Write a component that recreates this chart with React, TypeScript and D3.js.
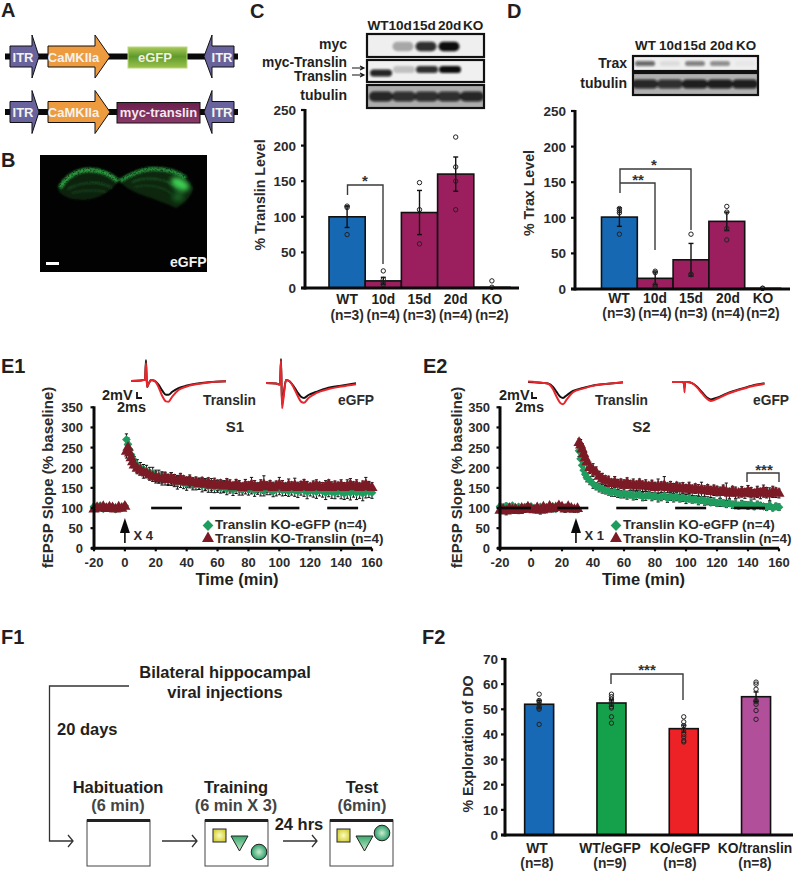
import React from "react";
import * as d3 from "d3";

const FONT = '"Liberation Sans", Arial, sans-serif';
const INK = "#231f20";

// Panel C
const C_CATEGORIES = ["WT", "10d", "15d", "20d", "KO"];
const C_COUNTS = ["(n=3)", "(n=4)", "(n=3)", "(n=4)", "(n=2)"];
const C_VALUES = [100, 10, 106, 160, 1];
const C_ERRORS = [15, 5, 31, 24, 0];
const C_POINTS = [[75, 113, 115], [5, 8, 12, 24], [62, 110, 148], [110, 150, 170, 212], [1, 10]];

// Panel D
const D_VALUES = [101, 15, 41, 95, 1];
const D_ERRORS = [13, 9, 23, 13, 0];
const D_POINTS = [[77, 107, 110, 113], [3, 6, 23, 25], [20, 21, 77], [69, 85, 108, 116], [1, 1]];

// Panel F2
const F_CATEGORIES = ["WT", "WT/eGFP", "KO/eGFP", "KO/translin"];
const F_COUNTS = ["(n=8)", "(n=9)", "(n=8)", "(n=8)"];
const F_VALUES = [52, 52.5, 42.3, 55];
const F_ERRORS = [1.5, 1.3, 1.4, 1.9];
const F_POINTS = [
  [44, 50, 50.5, 51, 52, 53, 53.5, 56],
  [44.5, 47, 50.5, 51, 52, 53, 54, 55, 56],
  [37, 37.5, 39, 40, 42, 43.5, 45, 47],
  [46, 49.5, 52, 53, 53.5, 58, 60, 60.8],
];
const BAR_BLUE = "#1768b3";
const BAR_WINE = "#9b1f5f";
const C_COLORS = [BAR_BLUE, BAR_WINE, BAR_WINE, BAR_WINE, BAR_WINE];
const F_COLORS = ["#1769b5", "#15a04b", "#ec2227", "#b24f9a"];

// Blots: band strength per lane
const MYC_BANDS = [0, 0.3, 0.85, 1, 0];
const TRANSLIN_BANDS = [0.9, 0.2, 0.85, 1, 0];
const TUBULIN_C_BANDS = [0.85, 0.8, 0.8, 0.8, 0.85];
const TRAX_BANDS = [0.6, 0.08, 0.45, 0.4, 0.03];
const TUBULIN_D_BANDS = [0.85, 0.8, 0.9, 0.9, 0.9];

// E1 time course
const E1_TIME = [...d3.range(-20, 1, 2), 1, 2, 3, 4, 5, 6, ...d3.range(8, 161, 2)];
const E1_EGFP = [
  104, 100, 106, 98, 102, 99, 103, 97, 101, 100, 105,
  270, 258, 244, 232, 222, 214,
  206, 200, 196, 192, 188, 186, 180, 178, 176, 172,
  170, 172, 168, 164, 166, 162, 160, 164, 160, 158,
  160, 156, 158, 154, 156, 152, 154, 150, 152, 148,
  150, 146, 150, 148, 146, 150, 146, 148, 144, 148,
  146, 144, 148, 146, 142, 146, 148, 144, 146, 142,
  146, 144, 142, 146, 144, 140, 144, 142, 140, 144,
  142, 138, 142, 140, 138, 142, 140, 136, 140, 138,
  142, 138, 140, 136, 140, 142, 138,
];
const E1_TRANSLIN = [
  97, 101, 99, 103, 98, 102, 100, 97, 102, 99, 104,
  240, 250, 236, 224, 214, 206,
  198, 194, 188, 186, 182, 178, 176, 174, 172, 176,
  170, 174, 170, 166, 172, 168, 164, 168, 162, 164,
  160, 164, 158, 162, 156, 160, 156, 158, 154, 160,
  156, 152, 158, 154, 150, 156, 152, 158, 154, 150,
  156, 158, 152, 156, 150, 154, 158, 154, 150, 156,
  152, 156, 150, 154, 158, 152, 150, 154, 156, 152,
  150, 154, 158, 150, 154, 152, 156, 150, 154, 158,
  152, 156, 150, 154, 158, 152, 150,
];
const E1_EGFP_ERR = [
  6, 7, 5, 6, 7, 5, 6, 7, 5, 6, 7,
  14, 16, 14, 15, 13, 14,
  14, 13, 12, 14, 13, 15, 14, 16, 14, 15,
  14, 16, 15, 17, 15, 14, 16, 14, 15, 13,
  14, 16, 14, 15, 17, 14, 15, 13, 14, 15,
  13, 15, 14, 16, 14, 15, 14, 13, 15, 14,
  16, 14, 15, 13, 14, 16, 15, 14, 15, 13,
  14, 15, 16, 14, 15, 17, 14, 15, 16, 14,
  15, 17, 14, 16, 15, 14, 17, 15, 16, 18,
  15, 17, 16, 18, 15, 16, 14,
];
const E1_TRANSLIN_ERR = [
  5, 6, 5, 7, 6, 5, 6, 5, 7, 6, 6,
  16, 15, 14, 13, 14, 12,
  13, 12, 14, 11, 13, 12, 14, 12, 15, 13,
  12, 14, 13, 12, 14, 12, 13, 14, 12, 13,
  14, 12, 15, 13, 12, 14, 13, 12, 14, 13,
  14, 12, 13, 14, 12, 15, 13, 18, 14, 12,
  14, 22, 13, 12, 14, 13, 18, 14, 12, 16,
  13, 18, 14, 12, 13, 14, 12, 13, 14, 12,
  13, 14, 12, 15, 13, 12, 14, 13, 16, 15,
  13, 14, 12, 13, 18, 14, 13,
];

// E2 time course
const E2_TIME = [...d3.range(-20, 31, 2), 31, 32, 33, 34, 35, 36, ...d3.range(38, 161, 2)];
const E2_EGFP = [
  104, 102, 105, 103, 106, 100, 103, 98, 102, 100, 104, 98, 101, 103, 99, 102, 100, 104, 98, 103, 101, 99, 102, 100, 98, 97,
  242, 222, 206, 194, 184, 176,
  168, 160, 154, 150, 148, 144, 142, 138, 140, 136,
  134, 136, 132, 134, 130, 132, 134, 128, 130, 132,
  128, 130, 126, 128, 130, 124, 128, 126, 128, 124,
  126, 122, 124, 120, 122, 118, 120, 116, 118, 114,
  116, 112, 114, 112, 110, 112, 108, 110, 106, 110,
  108, 106, 110, 104, 108, 106, 104, 102, 106, 100,
  104, 102,
];
const E2_TRANSLIN = [
  94, 96, 92, 98, 95, 97, 93, 99, 96, 102, 97, 95, 100, 94, 102, 96, 104, 98, 100, 105, 102, 97, 103, 99, 96, 98,
  262, 256, 246, 234, 224, 214,
  200, 194, 188, 178, 172, 168, 166, 160, 164, 158,
  160, 156, 162, 156, 158, 154, 160, 154, 156, 152,
  156, 150, 154, 152, 156, 150, 152, 148, 152, 148,
  150, 146, 150, 144, 148, 144, 146, 142, 146, 140,
  144, 142, 138, 144, 140, 136, 142, 138, 136, 140,
  136, 142, 138, 134, 140, 136, 142, 138, 134, 140,
  138, 136,
];
const E2_EGFP_ERR = [
  6, 5, 7, 6, 5, 7, 6, 5, 7, 6, 5, 7, 6, 5, 6, 7, 5, 6, 7, 5, 6, 7, 5, 6, 5, 6,
  14, 14, 13, 12, 12, 11,
  10, 11, 9, 10, 11, 9, 10, 9, 11, 10,
  9, 11, 10, 9, 10, 11, 9, 10, 11, 9,
  10, 9, 11, 10, 9, 10, 9, 11, 10, 9,
  10, 11, 9, 8, 9, 10, 8, 9, 10, 8,
  9, 8, 10, 8, 9, 8, 9, 10, 8, 9,
  8, 9, 10, 8, 9, 8, 7, 8, 9, 7,
  8, 8,
];
const E2_TRANSLIN_ERR = [
  7, 8, 9, 7, 8, 9, 7, 8, 7, 9, 8, 7, 8, 9, 7, 8, 7, 8, 7, 8, 7, 8, 7, 8, 7, 6,
  10, 14, 14, 15, 14, 15,
  14, 16, 14, 13, 14, 12, 13, 12, 14, 13,
  12, 14, 13, 12, 14, 13, 12, 13, 14, 12,
  13, 14, 18, 13, 22, 12, 14, 13, 12, 14,
  13, 12, 14, 13, 12, 14, 18, 13, 12, 14,
  13, 12, 14, 13, 22, 13, 12, 14, 11, 13,
  12, 14, 13, 12, 14, 13, 15, 13, 16, 14,
  12, 11,
];
const E1_STIM_BARS = [[17, 37], [55, 75], [93, 113], [131, 151]];
const E2_STIM_BARS = [[-20, 0], [17, 37], [55, 75], [93, 113], [131, 151]];

// Example traces as [ms, mV]
const E1A_BLACK = [[0, 0], [4, 0.2], [5.6, 0.4], [6, 7], [6.4, -2], [7, -1], [8, 0.3], [9.5, 0], [11, -1.2], [12.5, -3.2], [14, -4.6], [15, -4.6], [16.5, -3.6], [19, -2.4], [22, -1.6], [26, -0.9], [31, -0.4], [38, -0.1]];
const E1A_RED = [[0, 0], [4, 0.2], [5.6, 0.4], [6, 6], [6.4, -2], [7, -1], [8, 0.3], [9.5, 0], [11, -2], [12.5, -5], [14, -6.8], [15, -6.9], [16.5, -5.2], [19, -3], [22, -1.9], [26, -1.1], [31, -0.5], [38, -0.1]];
const E1B_BLACK = [[0, 0], [4, -0.2], [5.6, -0.5], [6, 8], [6.4, -7], [7, -4], [8, 1], [9.5, 0.5], [11, -1], [12.5, -3], [14, -4.6], [15.2, -5], [17, -4], [20, -3], [25, -1.6], [30, -0.9], [36, -0.1]];
const E1B_RED = [[0, 0], [4, -0.2], [5.6, -0.5], [6, 7.5], [6.4, -8.4], [7, -5], [8, 1], [9.5, 0.5], [11, -1.4], [12.5, -4], [14, -6.2], [15.2, -6.6], [17, -5], [20, -3.4], [25, -2], [30, -1.2], [36, -0.4]];
const E2A_BLACK = [[0, 0], [6, -0.3], [8, -0.5], [10, -1.6], [11.5, -3.4], [13, -5], [14, -5.3], [15.5, -4.4], [18, -3], [22, -2], [27, -1], [33, -0.5], [38, -0.1]];
const E2A_RED = [[0, 0.2], [6, -0.3], [8, -0.6], [10, -2.4], [11.5, -5], [13, -7.1], [14, -7.4], [15.5, -5.8], [18, -3.4], [22, -2.2], [27, -1.1], [33, -0.5], [38, -0.2]];
const E2B_BLACK = [[0, 0], [4, 0], [4.8, -0.3], [5, -2], [5.2, 0], [6, 0], [8, -0.4], [10, -1.6], [12, -3.4], [14, -5.2], [15.6, -5.8], [18, -5.2], [22, -3.8], [27, -2.4], [32, -1.2], [37, -0.4]];
const E2B_RED = [[0, 0], [4, 0], [4.8, -0.6], [5, -3.4], [5.2, 0], [6, 0], [8, -0.4], [10, -1.8], [12, -3.8], [14, -5.6], [15.6, -6.3], [18, -5.6], [22, -4], [27, -2.6], [32, -1.4], [37, -0.6]];

type Anchor = "start" | "middle" | "end";

function Label({ x, y, children, size = 13, anchor = "start", weight = "bold", fill = INK, rotate }: {
  x: number; y: number; children: React.ReactNode; size?: number; anchor?: Anchor; weight?: string; fill?: string; rotate?: boolean;
}) {
  return (
    <text
      x={rotate ? 0 : x}
      y={rotate ? 0 : y}
      transform={rotate ? `translate(${x},${y}) rotate(-90)` : undefined}
      fontFamily={FONT}
      fontSize={size}
      fontWeight={weight}
      textAnchor={anchor}
      fill={fill}
    >
      {children}
    </text>
  );
}

// Vector map pieces of panel A
function Arrow({ x0, x1, x2, y, dir = 1, fill, label }: { x0: number; x1: number; x2: number; y: number; dir?: number; fill: string; label: string }) {
  const h = 10.5;
  const head = 21.5;
  const pts = [[x0, y - h], [x1, y - h], [x1, y - head], [x2, y], [x1, y + head], [x1, y + h], [x0, y + h]];
  return (
    <g>
      <polygon points={pts.map((p) => p.join(",")).join(" ")} fill={fill} stroke="#111" strokeWidth={1} />
      <Label x={dir > 0 ? (x0 + x1 + 4) / 2 : (x0 + x1 - 2) / 2} y={y + 5} anchor="middle" fill="#f4f2ee" size={13}>{label}</Label>
    </g>
  );
}

function Construct({ y, insert }: { y: number; insert: React.ReactNode }) {
  return (
    <g>
      <line x1={5} x2={238} y1={y} y2={y} stroke="#0a0a0a" strokeWidth={6} />
      <Arrow x0={10} x1={32} x2={39} y={y} fill="#68639c" label="ITR" />
      <Arrow x0={48} x1={95} x2={110} y={y} fill="#ee9a3f" label="CaMKIIa" />
      {insert}
      <Arrow x0={234} x1={212} x2={204} y={y} dir={-1} fill="#68639c" label="ITR" />
    </g>
  );
}

function Brain() {
  const leftBody = "M58,190 C64,176 76,168 90,168 C102,168 112,175 119,181 C112,190 100,199 84,200 C72,200 62,197 58,190 Z";
  const rightBody = "M119,181 C128,174 140,167 153,167 C168,167 184,172 193,188 C192,196 184,204 176,208 C160,200 140,196 127,188 Z";
  return (
    <g>
      <rect x={40} y={155} width={167} height={117} fill="#020202" />
      <g filter="url(#soft05)">
        <path d={leftBody} fill="#0a240e" />
        <path d={rightBody} fill="#0b2810" />
      </g>
      <g filter="url(#speckle)" fill="none">
        <path d="M60,188 C66,176 78,170 90,170 C102,170 112,176 118,181" stroke="#2a9e40" strokeWidth={4.5} />
        <path d="M120,181 C128,176 140,169 153,169 C166,169 178,172 186,178" stroke="#27923c" strokeWidth={4} />
        <path d="M68,189 C82,181 100,181 112,188" stroke="#1f5f2c" strokeWidth={1.5} />
        <path d="M72,193 C84,190 96,190 106,192" stroke="#174a22" strokeWidth={1.5} />
        <path d="M132,182 C148,176 165,178 178,188" stroke="#1f5f2c" strokeWidth={1.5} />
        <path d="M134,187 C150,184 162,186 172,194" stroke="#174a22" strokeWidth={1.5} />
      </g>
      <g filter="url(#soft2)">
        <ellipse cx={180} cy={184} rx={10} ry={5.5} fill="#3ccf52" transform="rotate(28 180 184)" />
        <ellipse cx={178} cy={197} rx={6} ry={5} fill="#145a22" />
      </g>
      <rect x={46} y={262} width={13} height={3} fill="#fff" />
      <Label x={170} y={267} fill="#f2f2f2" size={14}>eGFP</Label>
    </g>
  );
}

function BlotRow({ x, y, w, h, lanes, bands, bg, bandH, bandW, shift = 0, dy = 0 }: {
  x: number; y: number; w: number; h: number; lanes: [number, number]; bands: number[]; bg: string; bandH: number; bandW: number; shift?: number; dy?: number;
}) {
  const laneScale = d3.scalePoint<number>().domain(d3.range(bands.length)).range(lanes);
  const id = `clip${x}-${y}`;
  return (
    <g>
      <clipPath id={id}><rect x={x} y={y} width={w} height={h} /></clipPath>
      <rect x={x} y={y} width={w} height={h} fill={bg} />
      <g clipPath={`url(#${id})`}>
        <g filter="url(#soft1)">
          {bands.map((b, i) => (
            <rect
              key={i}
              x={(laneScale(i) as number) - bandW / 2}
              y={y + h / 2 - bandH / 2 + dy + (i === 0 ? shift : 0)}
              width={bandW}
              height={bandH}
              rx={bandH / 2}
              fill="#0c0c0c"
              opacity={b}
            />
          ))}
        </g>
      </g>
      <rect x={x} y={y} width={w} height={h} fill="none" stroke="#111" strokeWidth={2.2} />
    </g>
  );
}

function BarPanel({ axisX, plotLeft, step, barWidth, right, top, bottom, yMax, yStep, categories, counts, values, errors, points, colors, title, titleX, titleY, tickRight, catY, nY, catCenters, pointR = 2.2, catSize = 13.8 }: any) {
  const y = d3.scaleLinear().domain([0, yMax]).range([bottom, top]);
  const x = d3.scaleBand<number>()
    .domain(d3.range(categories.length))
    .range([plotLeft, plotLeft + step * categories.length])
    .paddingInner(1 - barWidth / step)
    .paddingOuter((1 - barWidth / step) / 2);
  return (
    <g>
      {values.map((v: number, i: number) => (
        <rect key={i} x={x(i)} y={y(v)} width={x.bandwidth()} height={bottom - y(v)} fill={colors[i]} stroke="#111" strokeWidth={1.6} />
      ))}
      {values.map((v: number, i: number) => {
        const cx = x(i)! + x.bandwidth() / 2;
        return errors[i] > 0 ? (
          <g key={i} stroke="#111" strokeWidth={1.4}>
            <line x1={cx} x2={cx} y1={y(v - errors[i])} y2={y(v + errors[i])} />
            <line x1={cx - 2.5} x2={cx + 2.5} y1={y(v - errors[i])} y2={y(v - errors[i])} />
            <line x1={cx - 2.5} x2={cx + 2.5} y1={y(v + errors[i])} y2={y(v + errors[i])} />
          </g>
        ) : null;
      })}
      {points.map((ps: number[], i: number) =>
        ps.map((p, j) => (
          <circle key={`${i}-${j}`} cx={x(i)! + x.bandwidth() / 2} cy={y(p)} r={pointR} fill="none" stroke="#222" strokeWidth={1} />
        ))
      )}
      <line x1={axisX} x2={axisX} y1={top - 1} y2={bottom + 1.5} stroke="#0a0a0a" strokeWidth={3} />
      <line x1={axisX - 4} x2={right} y1={bottom} y2={bottom} stroke="#0a0a0a" strokeWidth={3} />
      {d3.range(0, yMax + 1, yStep).map((t) => (
        <g key={t}>
          <line x1={axisX - 4} x2={axisX} y1={y(t)} y2={y(t)} stroke="#0a0a0a" strokeWidth={2.2} />
          <Label x={tickRight} y={y(t) + 5} anchor="end" size={13.5} fill="#2b2b2b">{t}</Label>
        </g>
      ))}
      <Label x={titleX} y={titleY} rotate anchor="middle" size={14.2} fill="#2b2b2b">{title}</Label>
      {categories.map((c: string, i: number) => {
        const cx = catCenters ? catCenters[i] : x(i)! + x.bandwidth() / 2;
        return (
          <g key={c}>
            <Label x={cx} y={catY} anchor="middle" size={catSize}>{c}</Label>
            <Label x={cx} y={nY} anchor="middle" size={catSize} fill="#2b2b2b">{counts[i]}</Label>
          </g>
        );
      })}
    </g>
  );
}

function Bracket({ d }: { d: string }) {
  return <path d={d} fill="none" stroke="#3a3a3a" strokeWidth={1.4} />;
}

function Trace({ data, x0, y0, color, width = 2 }: { data: number[][]; x0: number; y0: number; color: string; width?: number }) {
  const xs = d3.scaleLinear().domain([0, 1]).range([x0, x0 + 2.5]);
  const ys = d3.scaleLinear().domain([0, 1]).range([y0, y0 - 3]);
  const path = d3.line<number[]>().x((d) => xs(d[0])).y((d) => ys(d[1])).curve(d3.curveMonotoneX)(data) || "";
  return <path d={path} fill="none" stroke={color} strokeWidth={width} strokeLinejoin="round" />;
}

function TimeCourse({ left, right, axisLabelRight, titleX, time, egfp, translin, egfpErr, translinErr, stimBars, label, arrowT, xLabel, legendX }: any) {
  const top = 407.3;
  const bottom = 548.3;
  const x = d3.scaleLinear().domain([-20, 160]).range([left, right]);
  const y = d3.scaleLinear().domain([0, 350]).range([bottom, top]);
  const diamond = d3.symbol(d3.symbolSquare, 38)() || "";
  const tri = d3.symbol(d3.symbolTriangle, 54)() || "";
  const legendDiamond = d3.symbol(d3.symbolSquare, 58)() || "";
  const legendTri = d3.symbol(d3.symbolTriangle, 62)() || "";
  const whisker = (vals: number[], errs: number[]) =>
    vals.map((v, i) => {
      const cx = x(time[i]);
      return (
        <g key={i} stroke="#111" strokeWidth={1}>
          <line x1={cx} x2={cx} y1={y(v - errs[i])} y2={y(v + errs[i])} />
          <line x1={cx - 1.6} x2={cx + 1.6} y1={y(v + errs[i])} y2={y(v + errs[i])} />
          <line x1={cx - 1.6} x2={cx + 1.6} y1={y(v - errs[i])} y2={y(v - errs[i])} />
        </g>
      );
    });
  return (
    <g>
      {whisker(egfp, egfpErr)}
      {whisker(translin, translinErr)}
      {egfp.map((v: number, i: number) => (
        <path key={i} d={diamond} transform={`translate(${x(time[i])},${y(v)}) rotate(45)`} fill="#1f9d5e" />
      ))}
      {translin.map((v: number, i: number) => (
        <path key={i} d={tri} transform={`translate(${x(time[i])},${y(v)})`} fill="#7c1a25" />
      ))}
      {stimBars.map((b: number[], i: number) => (
        <line key={i} x1={x(b[0])} x2={x(b[1])} y1={y(100)} y2={y(100)} stroke="#0a0a0a" strokeWidth={2.6} />
      ))}
      <line x1={left} x2={left} y1={top - 1} y2={bottom + 1.5} stroke="#0a0a0a" strokeWidth={3} />
      <line x1={left - 3} x2={right} y1={bottom} y2={bottom} stroke="#0a0a0a" strokeWidth={3} />
      {d3.range(0, 351, 50).map((t) => (
        <g key={t}>
          <line x1={left - 3.5} x2={left} y1={y(t)} y2={y(t)} stroke="#0a0a0a" strokeWidth={2.2} />
          <Label x={axisLabelRight} y={y(t) + 5} anchor="end" size={13} fill="#2b2b2b">{t}</Label>
        </g>
      ))}
      {d3.range(-20, 161, 20).map((t) => (
        <g key={t}>
          <line x1={x(t)} x2={x(t)} y1={bottom} y2={bottom + 3} stroke="#0a0a0a" strokeWidth={2.2} />
          <Label x={x(t)} y={567} anchor="middle" size={13} fill="#2b2b2b">{t}</Label>
        </g>
      ))}
      <Label x={titleX} y={477.5} rotate anchor="middle" size={15} fill="#2b2b2b">fEPSP Slope (% baseline)</Label>
      <Label x={(left + right) / 2 + 4} y={584.5} anchor="middle" size={16.5}>Time (min)</Label>
      <Label x={(left + right) / 2 + 2} y={432} anchor="middle" size={15} fill="#2b2b2b">{label}</Label>
      {/* stimulus arrow */}
      <line x1={x(arrowT)} x2={x(arrowT)} y1={543} y2={528} stroke="#0a0a0a" strokeWidth={1.6} />
      <polygon points={`${x(arrowT)},518 ${x(arrowT) - 5},533 ${x(arrowT) + 5},533`} fill="#0a0a0a" />
      <Label x={x(arrowT) + 8.5} y={540} size={13} fill="#2b2b2b">{xLabel}</Label>
      {/* legend */}
      <path d={legendDiamond} transform={`translate(${legendX},525.5) rotate(45)`} fill="#1f9d5e" />
      <path d={legendTri} transform={`translate(${legendX},538.5)`} fill="#7c1a25" />
      <Label x={legendX + 7} y={528.5} size={13.5} fill="#2b2b2b">Translin KO-eGFP (n=4)</Label>
      <Label x={legendX + 7} y={542.5} size={13.5} fill="#2b2b2b">Translin KO-Translin (n=4)</Label>
    </g>
  );
}

function ScaleMark({ x, y }: { x: number; y: number }) {
  return <path d={`M${x},${y} V${y + 6} H${x + 5}`} fill="none" stroke="#111" strokeWidth={1.8} />;
}

function Cage({ x, children }: { x: number; children?: React.ReactNode }) {
  return (
    <g>
      <rect x={x} y={820} width={63} height={46} fill="#fff" stroke="#444" strokeWidth={1} />
      <rect x={x} y={819} width={63} height={3} fill="#222" />
      {children}
    </g>
  );
}

function OpenArrow({ x1, x2, y }: { x1: number; x2: number; y: number }) {
  return <path d={`M${x1},${y} H${x2} M${x2 - 5},${y - 6} L${x2},${y} L${x2 - 5},${y + 6}`} fill="none" stroke="#333" strokeWidth={1.3} />;
}

function Objects({ sx, tx, cx, cy }: { sx: number; tx: number; cx: number; cy: number }) {
  const triW = 17;
  return (
    <g stroke="#222" strokeWidth={1}>
      <rect x={sx} y={829} width={13} height={13} fill="url(#yellowObj)" />
      <polygon points={`${tx},836 ${tx + triW},836 ${tx + triW / 2},851`} fill="url(#greenObj)" />
      <circle cx={cx} cy={cy} r={7.8} fill="url(#greenBall)" />
    </g>
  );
}

export default function App() {
  return (
    <svg width={795} height={874} style={{ position: "absolute", left: 0, top: 0, background: "#fff" }}>
      <defs>
        <filter id="soft05"><feGaussianBlur stdDeviation="0.8" /></filter>
        <filter id="soft1" x="-20%" y="-50%" width="140%" height="200%"><feGaussianBlur stdDeviation="1.1" /></filter>
        <filter id="soft2" x="-40%" y="-60%" width="180%" height="220%"><feGaussianBlur stdDeviation="2.4" /></filter>
        <filter id="speckle" x="-10%" y="-30%" width="120%" height="160%">
          <feTurbulence type="fractalNoise" baseFrequency="0.6" numOctaves="2" seed="4" result="noise" />
          <feColorMatrix in="noise" type="matrix" values="0 0 0 0 0  0 0 0 0 0  0 0 0 0 0  2.2 0 0 0 -0.2" result="mask" />
          <feGaussianBlur in="SourceGraphic" stdDeviation="1" result="soft" />
          <feComposite in="soft" in2="mask" operator="in" />
        </filter>
        <linearGradient id="greenBox" x1="0" y1="0" x2="0" y2="1">
          <stop offset="0" stopColor="#a9c95a" /><stop offset="0.45" stopColor="#5f9a2a" /><stop offset="1" stopColor="#9dc24e" />
        </linearGradient>
        <linearGradient id="wineBox" x1="0" y1="0" x2="0" y2="1">
          <stop offset="0" stopColor="#6b1f4d" /><stop offset="1" stopColor="#8a3a68" />
        </linearGradient>
        <radialGradient id="yellowObj"><stop offset="0" stopColor="#fcfcc0" /><stop offset="1" stopColor="#d6d243" /></radialGradient>
        <linearGradient id="greenObj" x1="0" y1="0" x2="0" y2="1"><stop offset="0" stopColor="#3aa96d" /><stop offset="1" stopColor="#c3e8c8" /></linearGradient>
        <radialGradient id="greenBall"><stop offset="0" stopColor="#c9ecd0" /><stop offset="1" stopColor="#2a9e66" /></radialGradient>
      </defs>

      <Label x={1} y={17} size={20}>A</Label>
      <Label x={1} y={167} size={20}>B</Label>
      <Label x={250} y={18} size={20}>C</Label>
      <Label x={507} y={18} size={20}>D</Label>
      <Label x={1} y={373} size={20}>E1</Label>
      <Label x={423} y={373} size={20}>E2</Label>
      <Label x={1} y={644} size={20}>F1</Label>
      <Label x={422} y={644} size={20}>F2</Label>

      <Construct
        y={56.5}
        insert={
          <g>
            <rect x={128} y={47} width={59} height={21} fill="url(#greenBox)" stroke="#b7d77a" strokeWidth={1} />
            <Label x={155} y={62} anchor="middle" fill="#f0f2e0" size={13}>eGFP</Label>
          </g>
        }
      />
      <Construct
        y={112}
        insert={
          <g>
            <rect x={117} y={102.5} width={83} height={20.5} fill="url(#wineBox)" stroke="#111" strokeWidth={1} />
            <Label x={158.5} y={117} anchor="middle" fill="#f4e8ef" size={13}>myc-translin</Label>
          </g>
        }
      />
      <Brain />

      {/* C */}
      {[["WT", 367.5], ["10d", 388.5], ["15d", 412.5], ["20d", 438], ["KO", 463]].map(([t, px]) => (
        <Label key={t as string} x={px as number} y={30} size={13.6}>{t}</Label>
      ))}
      <BlotRow x={367} y={34} w={117} h={23} lanes={[380, 472]} bands={MYC_BANDS} bg="#efefef" bandH={9.5} bandW={21} dy={1} />
      <BlotRow x={367} y={60} w={117} h={22} lanes={[381, 473]} bands={TRANSLIN_BANDS} bg="#f0f0f0" bandH={7} bandW={22} shift={3.5} dy={-1.5} />
      <BlotRow x={367} y={85} w={117} h={23} lanes={[381, 472]} bands={TUBULIN_C_BANDS} bg="#adadad" bandH={10} bandW={24} />
      <Label x={347} y={49} anchor="end" size={14}>myc</Label>
      <Label x={347} y={67} anchor="end" size={13.8}>myc-Translin</Label>
      <Label x={347} y={81} anchor="end" size={13.8}>Translin</Label>
      <Label x={347} y={100} anchor="end" size={14}>tubulin</Label>
      <path d="M352,68 H364 M360,66 L364,68 L360,70 M352,75 H364 M360,73 L364,75 L360,77" fill="none" stroke="#111" strokeWidth={1.1} />
      <BarPanel
        axisX={305} plotLeft={329} step={36.2} barWidth={36.2} right={519} top={110} bottom={288}
        yMax={250} yStep={50} categories={C_CATEGORIES} counts={C_COUNTS} values={C_VALUES} errors={C_ERRORS}
        points={C_POINTS} colors={C_COLORS} title="% Translin Level" titleX={265} titleY={195} tickRight={296} catY={304} nY={320}
      />
      <Bracket d="M347.5,195 V185 H383 V264" />
      <Label x={365} y={186} anchor="middle" size={15} fill="#333">*</Label>

      {/* D */}
      {[["WT", 635], ["10d", 659], ["15d", 683], ["20d", 710], ["KO", 736]].map(([t, px]) => (
        <Label key={t as string} x={px as number} y={50} size={13.4}>{t}</Label>
      ))}
      <BlotRow x={633} y={56} w={125} h={15} lanes={[645, 745]} bands={TRAX_BANDS} bg="#efefef" bandH={5} bandW={20} />
      <BlotRow x={633} y={73} w={125} h={22} lanes={[645, 745]} bands={TUBULIN_D_BANDS} bg="#b0b0b0" bandH={9} bandW={26} />
      <Label x={627} y={68} anchor="end" size={14}>Trax</Label>
      <Label x={627} y={88} anchor="end" size={14}>tubulin</Label>
      <BarPanel
        axisX={575} plotLeft={601.5} step={35.8} barWidth={35.8} right={790} top={111} bottom={289}
        yMax={250} yStep={50} categories={C_CATEGORIES} counts={C_COUNTS} values={D_VALUES} errors={D_ERRORS}
        points={D_POINTS} colors={C_COLORS} title="% Trax Level" titleX={534} titleY={193} tickRight={566} catY={303} nY={318}
        catCenters={[619, 655, 691, 728, 763]}
      />
      <Bracket d="M620,193 V169 H691 V230 M620,183 H655 V250" />
      <Label x={654} y={170} anchor="middle" size={15} fill="#333">*</Label>
      <Label x={638} y={185} anchor="middle" size={15} fill="#333">**</Label>

      {/* E1 */}
      <Trace data={E1A_BLACK} x0={131} y0={381} color="#111" />
      <Trace data={E1A_RED} x0={131} y0={381} color="#e8262c" />
      <Trace data={E1B_BLACK} x0={266} y0={383} color="#111" />
      <Trace data={E1B_RED} x0={266} y0={383} color="#e8262c" />
      <Label x={102} y={400} size={14.5}>2mV</Label>
      <Label x={117} y={412} size={14.5}>2ms</Label>
      <ScaleMark x={137} y={392} />
      <Label x={203} y={405} size={13.8} fill="#2b2b2b">Translin</Label>
      <Label x={338} y={405} size={13.8} fill="#2b2b2b">eGFP</Label>
      <TimeCourse
        left={94} right={372} axisLabelRight={83} titleX={53} time={E1_TIME} egfp={E1_EGFP} translin={E1_TRANSLIN}
        egfpErr={E1_EGFP_ERR} translinErr={E1_TRANSLIN_ERR} stimBars={E1_STIM_BARS} label="S1" arrowT={0} xLabel="X 4" legendX={208}
      />

      {/* E2 */}
      <Trace data={E2A_BLACK} x0={528} y0={382} color="#111" />
      <Trace data={E2A_RED} x0={528} y0={382} color="#e8262c" />
      <Trace data={E2B_BLACK} x0={672} y0={382} color="#111" />
      <Trace data={E2B_RED} x0={672} y0={382} color="#e8262c" />
      <Label x={499} y={400} size={14.5}>2mV</Label>
      <Label x={515} y={412} size={14.5}>2ms</Label>
      <ScaleMark x={532} y={392} />
      <Label x={595} y={405} size={13.8} fill="#2b2b2b">Translin</Label>
      <Label x={753} y={405} size={13.8} fill="#2b2b2b">eGFP</Label>
      <TimeCourse
        left={500} right={779} axisLabelRight={490} titleX={462} time={E2_TIME} egfp={E2_EGFP} translin={E2_TRANSLIN}
        egfpErr={E2_EGFP_ERR} translinErr={E2_TRANSLIN_ERR} stimBars={E2_STIM_BARS} label="S2" arrowT={29} xLabel="X 1" legendX={616}
      />
      <Bracket d="M747,482 V473 H779 V482" />
      <Label x={764} y={475} anchor="middle" size={15} fill="#333">***</Label>

      {/* F1 */}
      <Label x={225} y={678} anchor="middle" size={16.5}>Bilateral hippocampal</Label>
      <Label x={225} y={698} anchor="middle" size={16.5}>viral injections</Label>
      <path d="M129,686 H49.5 V841 H73 M68,835 L73,841 L68,847" fill="none" stroke="#333" strokeWidth={1.3} />
      <Label x={57} y={735} size={16.5}>20 days</Label>
      <Label x={118} y={793} anchor="middle" size={16.5}>Habituation</Label>
      <Label x={118} y={811} anchor="middle" size={16.3} fill="#444">(6 min)</Label>
      <Label x={236} y={793} anchor="middle" size={16.5}>Training</Label>
      <Label x={236} y={811} anchor="middle" size={16.3} fill="#444">(6 min X 3)</Label>
      <Label x={362} y={793} anchor="middle" size={16.5}>Test</Label>
      <Label x={362} y={811} anchor="middle" size={16.3} fill="#444">(6min)</Label>
      <Label x={299} y={830} anchor="middle" size={16.5}>24 hrs</Label>
      <Cage x={87} />
      <Cage x={205}><Objects sx={213} tx={231} cx={259} cy={852} /></Cage>
      <Cage x={330}><Objects sx={337} tx={356} cx={382} cy={833} /></Cage>
      <OpenArrow x1={162} x2={197} y={841} />
      <OpenArrow x1={283} x2={317} y={841} />

      {/* F2 */}
      <BarPanel
        axisX={505} plotLeft={503} step={72.3} barWidth={29} right={793} top={659} bottom={835}
        yMax={70} yStep={10} categories={F_CATEGORIES} counts={F_COUNTS} values={F_VALUES} errors={F_ERRORS}
        points={F_POINTS} colors={F_COLORS} title="% Exploration of DO" titleX={473} titleY={744} tickRight={498} catY={853} nY={868}
        catCenters={[537, 610, 680, 755]}
      />
      <Bracket d="M611,684 V674 H683 V700" />
      <Label x={647} y={675} anchor="middle" size={15} fill="#333">***</Label>
    </svg>
  );
}
